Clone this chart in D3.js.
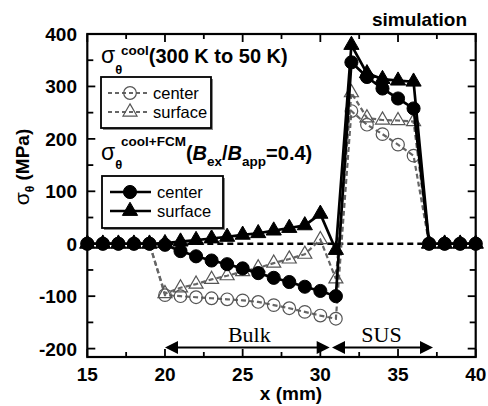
<!DOCTYPE html>
<html><head><meta charset="utf-8">
<script src="https://cdn.jsdelivr.net/npm/d3@7"></script>
<style>body{margin:0;background:#fff}svg{display:block}</style>
</head><body>
<svg id="c" width="488" height="406"></svg>
<script>
// ---- data ----
const xs = [15,16,17,18,19,20,21,22,23,24,25,26,27,28,29,30,31,32,33,34,35,36,37,38,39,40];
const coolCenter  = [0,0,0,0,0, -98,-100,-102,-104,-106,-108,-111,-117,-123,-130,-137,-143, 253,227,209,189,168, 0,0,0,0];
const coolSurface = [0,0,0,0,0, -95,-84,-77,-68,-61,-53,-46,-37,-29,-20,8,-67, 288,240,236,235,233, 0,0,0,0];
const fcmCenter   = [0,0,0,0,0, -2,-14,-24,-32,-39,-47,-56,-65,-73,-82,-90,-100, 346,318,296,277,258, 0,0,0,0];
const fcmSurface  = [0,0,0,0,0, 1,4,7,10,13,17,20,25,30,35,57,-12, 379,325,314,311,309, 0,0,0,0];
const xTicks = [15,20,25,30,35,40];
const yTicks = [-200,-100,0,100,200,300,400];
const bulkRange = [20.0, 30.6];
const susRange = [30.75, 37.25];
const arrowY = -198;
const labelY = -187;

const svg = d3.select("#c");
const L = 87.3, R = 475.7, T = 34, B = 357;
const x = d3.scaleLinear().domain([15,40]).range([L,R]);
const y = d3.scaleLinear().domain([-216,400]).range([B,T]);
const SANS = "'Liberation Sans', Arial, sans-serif";
const SERIF = "'Liberation Serif', 'Times New Roman', serif";

// zero reference line
svg.append("line").attr("x1",x(15)).attr("x2",x(40)).attr("y1",y(0)).attr("y2",y(0))
  .attr("stroke","#000").attr("stroke-width",2.4).attr("stroke-dasharray","6,4");

const line = d3.line().x((d,i)=>x(xs[i])).y(d=>y(d));
const circ = d3.symbol().type(d3.symbolCircle).size(125);
const circF = d3.symbol().type(d3.symbolCircle).size(135);
const tri = d3.symbol().type(d3.symbolTriangle).size(85);
const triFill = d3.symbol().type(d3.symbolTriangle).size(100);

function series(vals, opts){
  svg.append("path").datum(vals).attr("d",line).attr("fill","none")
    .attr("stroke",opts.stroke).attr("stroke-width",opts.width)
    .attr("stroke-dasharray",opts.dash||null);
  svg.append("g").selectAll("path").data(vals).join("path")
    .attr("transform",(d,i)=>`translate(${x(xs[i])},${y(d)})`)
    .attr("d",opts.sym).attr("fill",opts.fill)
    .attr("stroke",opts.mstroke).attr("stroke-width",opts.mwidth);
}
const grey = "#666";
series(coolCenter,{stroke:grey,width:2.2,dash:"5,3",sym:circ,fill:"none",mstroke:"#555",mwidth:1.2});
series(coolSurface,{stroke:grey,width:2.2,dash:"5,3",sym:tri,fill:"none",mstroke:"#555",mwidth:1.2});
series(fcmCenter,{stroke:"#000",width:2.7,sym:circF,fill:"#000",mstroke:"#000",mwidth:1});
series(fcmSurface,{stroke:"#000",width:2.7,sym:triFill,fill:"#000",mstroke:"#000",mwidth:1});

// frame
svg.append("rect").attr("x",L).attr("y",T).attr("width",R-L).attr("height",B-T)
  .attr("fill","none").attr("stroke","#000").attr("stroke-width",2.2);

// ticks
const g = svg.append("g").attr("stroke","#000").attr("stroke-width",1.8);
d3.range(15,40.01,2.5).forEach(v=>{
  const maj = v%5===0, len = maj?8:5;
  g.append("line").attr("x1",x(v)).attr("x2",x(v)).attr("y1",B).attr("y2",B-len);
  g.append("line").attr("x1",x(v)).attr("x2",x(v)).attr("y1",T).attr("y2",T+len);
});
d3.range(-200,400.01,50).forEach(v=>{
  const maj = v%100===0, len = maj?8:6;
  g.append("line").attr("x1",L).attr("x2",L+len).attr("y1",y(v)).attr("y2",y(v));
  g.append("line").attr("x1",R).attr("x2",R-len).attr("y1",y(v)).attr("y2",y(v));
});

// tick labels
svg.append("g").selectAll("text").data(xTicks).join("text")
  .attr("x",d=>x(d)).attr("y",381).attr("text-anchor","middle")
  .attr("font-family",SANS).attr("font-weight","bold").attr("font-size",19).text(d=>d);
svg.append("g").selectAll("text").data(yTicks).join("text")
  .attr("x",77).attr("y",d=>y(d)+7).attr("text-anchor","end")
  .attr("font-family",SANS).attr("font-weight","bold").attr("font-size",19).text(d=>d);

// axis titles
svg.append("text").attr("x",291).attr("y",400).attr("text-anchor","middle")
  .attr("font-family",SANS).attr("font-weight","bold").attr("font-size",19).text("x (mm)");
const yl = svg.append("text").attr("transform","translate(29,167) rotate(-90)").attr("text-anchor","middle")
  .attr("font-family",SANS).attr("font-weight","bold").attr("font-size",19);
yl.append("tspan").attr("font-weight","normal").attr("font-size",21).text("σ");
yl.append("tspan").attr("font-size",12).attr("dy",5).text("θ");
yl.append("tspan").attr("dy",-5).text(" (MPa)");

svg.append("text").attr("x",467).attr("y",26).attr("text-anchor","end")
  .attr("font-family",SANS).attr("font-weight","bold").attr("font-size",19).text("simulation");

// title 1
const t1 = svg.append("text").attr("x",101).attr("y",63).attr("font-family",SANS).attr("font-weight","bold").attr("font-size",20);
t1.append("tspan").attr("font-weight","normal").attr("font-size",23).text("σ");
t1.append("tspan").attr("font-size",13).attr("dy",11).text("θ");
t1.append("tspan").attr("x",121).attr("dy",-19).attr("font-size",13.5).text("cool");
t1.append("tspan").attr("dy",8).text("(300 K to 50 K)");

// title 2
const t2 = svg.append("text").attr("x",101).attr("y",160).attr("font-family",SANS).attr("font-weight","bold").attr("font-size",20);
t2.append("tspan").attr("font-weight","normal").attr("font-size",23).text("σ");
t2.append("tspan").attr("font-size",13).attr("dy",9).text("θ");
t2.append("tspan").attr("x",121).attr("dy",-23).attr("font-size",13.5).text("cool+FCM");
t2.append("tspan").attr("dy",14).text("(");
t2.append("tspan").attr("font-style","italic").text("B");
t2.append("tspan").attr("font-size",13.5).attr("dy",6).text("ex");
t2.append("tspan").attr("dy",-6).text("/");
t2.append("tspan").attr("font-style","italic").text("B");
t2.append("tspan").attr("font-size",13.5).attr("dy",6).text("app");
t2.append("tspan").attr("dy",-6).text("=0.4)");

// legends
function legendBox(x0,y0,w,h){
  svg.append("rect").attr("x",x0+2).attr("y",y0+2).attr("width",w).attr("height",h).attr("fill","#888");
  svg.append("rect").attr("x",x0).attr("y",y0).attr("width",w).attr("height",h)
    .attr("fill","#fff").attr("stroke","#000").attr("stroke-width",1.8);
}
function legendItem(yy, label, style, sym, x1, x2, tx){
  svg.append("line").attr("x1",x1).attr("x2",x2).attr("y1",yy).attr("y2",yy)
    .attr("stroke",style.stroke).attr("stroke-width",style.width).attr("stroke-dasharray",style.dash||null);
  svg.append("path").attr("transform",`translate(130,${yy})`).attr("d",sym)
    .attr("fill",style.fill).attr("stroke",style.mstroke).attr("stroke-width",style.mwidth);
  svg.append("text").attr("x",tx).attr("y",yy+6).attr("font-family",SANS).attr("font-size",16.5).text(label);
}
legendBox(101,77,110,51);
legendItem(93,"center",{stroke:grey,width:2,dash:"4,3",fill:"none",mstroke:"#555",mwidth:1.2},circ,108,149,153);
legendItem(112,"surface",{stroke:grey,width:2,dash:"4,3",fill:"none",mstroke:"#555",mwidth:1.2},tri,108,149,153);
legendBox(102,176,121,52);
legendItem(192,"center",{stroke:"#000",width:2.4,fill:"#000",mstroke:"#000",mwidth:1},circF,110,151,157);
legendItem(211,"surface",{stroke:"#000",width:2.4,fill:"#000",mstroke:"#000",mwidth:1},triFill,110,151,157);

// Bulk / SUS arrows
function dblArrow(r){
  const x1 = x(r[0]), x2 = x(r[1]), yy = y(arrowY), hl = 13, hw = 6.5;
  svg.append("line").attr("x1",x1+hl-1).attr("x2",x2-hl+1).attr("y1",yy).attr("y2",yy)
    .attr("stroke","#000").attr("stroke-width",2);
  svg.append("path").attr("d",`M${x1},${yy}L${x1+hl},${yy-hw}L${x1+hl},${yy+hw}Z`).attr("fill","#000");
  svg.append("path").attr("d",`M${x2},${yy}L${x2-hl},${yy-hw}L${x2-hl},${yy+hw}Z`).attr("fill","#000");
}
dblArrow(bulkRange); dblArrow(susRange);
svg.append("text").attr("x",x(d3.mean(bulkRange))+2).attr("y",y(labelY)).attr("text-anchor","middle")
  .attr("font-family",SERIF).attr("font-size",22).text("Bulk");
svg.append("text").attr("x",x(d3.mean(susRange))-1).attr("y",y(labelY)).attr("text-anchor","middle")
  .attr("font-family",SERIF).attr("font-size",22).text("SUS");
</script>
</body></html>
